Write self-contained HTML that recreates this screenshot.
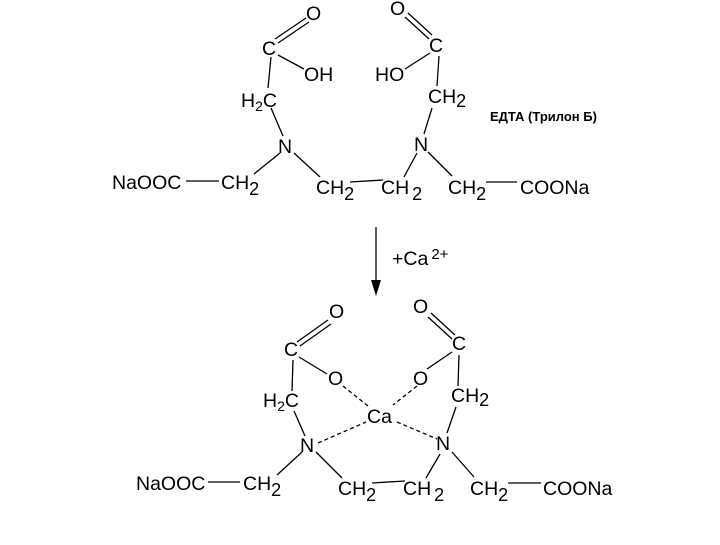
<!DOCTYPE html>
<html><head><meta charset="utf-8"><style>
html,body{margin:0;padding:0;background:#fff;}
svg text{font-family:"Liberation Sans",Arial,sans-serif;font-size:19.5px;fill:#000;}
</style></head><body>
<svg width="720" height="540" viewBox="0 0 720 540" xmlns="http://www.w3.org/2000/svg">
<g stroke="#000" stroke-width="1.3" fill="none">
<!-- top -->
<line x1="275" y1="39" x2="306" y2="18"/><line x1="278" y1="43" x2="309" y2="22"/>
<line x1="278" y1="55" x2="304" y2="69"/>
<line x1="271" y1="57" x2="268" y2="88"/>
<line x1="271" y1="108" x2="283" y2="136"/>
<line x1="280" y1="153" x2="254" y2="174"/>
<line x1="186" y1="181" x2="219" y2="181"/>
<line x1="294" y1="153" x2="320" y2="177"/>
<line x1="350" y1="182" x2="383" y2="180"/>
<line x1="404" y1="177" x2="417" y2="153"/>
<line x1="428" y1="152" x2="452" y2="176"/>
<line x1="486" y1="182" x2="517" y2="182"/>
<line x1="424" y1="134" x2="432" y2="108"/>
<line x1="437" y1="86" x2="439" y2="56"/>
<line x1="430" y1="53" x2="405" y2="69"/>
<line x1="429" y1="39" x2="405" y2="17"/><line x1="432" y1="35" x2="408" y2="13"/>
<!-- arrow -->
<line x1="376" y1="227" x2="376" y2="292"/>
<!-- bottom -->
<line x1="297" y1="342" x2="328" y2="320"/><line x1="300" y1="346" x2="331" y2="324"/>
<line x1="299" y1="357" x2="327" y2="374"/>
<line x1="293" y1="360" x2="292" y2="391"/>
<line x1="294" y1="411" x2="305" y2="436"/>
<line x1="302" y1="452" x2="277" y2="475"/>
<line x1="208" y1="482" x2="240" y2="482"/>
<line x1="316" y1="452" x2="342" y2="478"/>
<line x1="372" y1="483" x2="405" y2="481"/>
<line x1="426" y1="478" x2="440" y2="454"/>
<line x1="452" y1="452" x2="474" y2="477"/>
<line x1="508" y1="483" x2="541" y2="483"/>
<line x1="447" y1="433" x2="456" y2="407"/>
<line x1="458" y1="386" x2="459" y2="355"/>
<line x1="452" y1="352" x2="427" y2="369"/>
<line x1="452" y1="339" x2="428" y2="317"/><line x1="455" y1="335" x2="431" y2="313"/>
<g stroke-dasharray="4,3">
<line x1="343" y1="386" x2="368" y2="406"/>
<line x1="417" y1="386" x2="393" y2="405"/>
<line x1="318" y1="443" x2="366" y2="422"/>
<line x1="397" y1="422" x2="437" y2="439"/>
</g>
</g>
<polygon points="371,280 381,280 376,296" fill="#000"/>
<!-- top texts -->
<text x="306" y="20">O</text>
<text x="262" y="55">C</text>
<text x="304" y="81">OH</text>
<text x="241" y="107">H<tspan font-size="14" dy="4">2</tspan><tspan dy="-4">C</tspan></text>
<text x="278" y="153">N</text>
<text x="112" y="189">NaOOC</text>
<text x="221" y="189">CH<tspan font-size="18" dy="6">2</tspan></text>
<text x="316" y="194">CH<tspan font-size="18" dy="6">2</tspan></text>
<text x="381" y="194">CH<tspan font-size="18" dx="3" dy="6">2</tspan></text>
<text x="414" y="151">N</text>
<text x="428" y="103">CH<tspan font-size="18" dy="4">2</tspan></text>
<text x="375" y="81">HO</text>
<text x="429" y="52">C</text>
<text x="390" y="15">O</text>
<text x="448" y="194">CH<tspan font-size="18" dy="6">2</tspan></text>
<text x="520" y="194">COONa</text>
<text x="490" y="121" style="font-size:13px;font-weight:bold;">ЕДТА (Трилон Б)</text>
<text x="392" y="265">+Ca<tspan font-size="15" dx="3" dy="-6">2+</tspan></text>
<!-- bottom texts -->
<text x="329" y="318">O</text>
<text x="284" y="356">C</text>
<text x="328" y="385">O</text>
<text x="263" y="407">H<tspan font-size="14" dy="4">2</tspan><tspan dy="-4">C</tspan></text>
<text x="367" y="423">Ca</text>
<text x="300" y="452">N</text>
<text x="136" y="490">NaOOC</text>
<text x="243" y="490">CH<tspan font-size="18" dy="6">2</tspan></text>
<text x="338" y="495">CH<tspan font-size="18" dy="6">2</tspan></text>
<text x="403" y="495">CH<tspan font-size="18" dx="3" dy="6">2</tspan></text>
<text x="436" y="450">N</text>
<text x="451" y="402">CH<tspan font-size="18" dy="4">2</tspan></text>
<text x="413" y="385">O</text>
<text x="452" y="350">C</text>
<text x="413" y="313">O</text>
<text x="470" y="495">CH<tspan font-size="18" dy="6">2</tspan></text>
<text x="543" y="495">COONa</text>
</svg>
</body></html>
